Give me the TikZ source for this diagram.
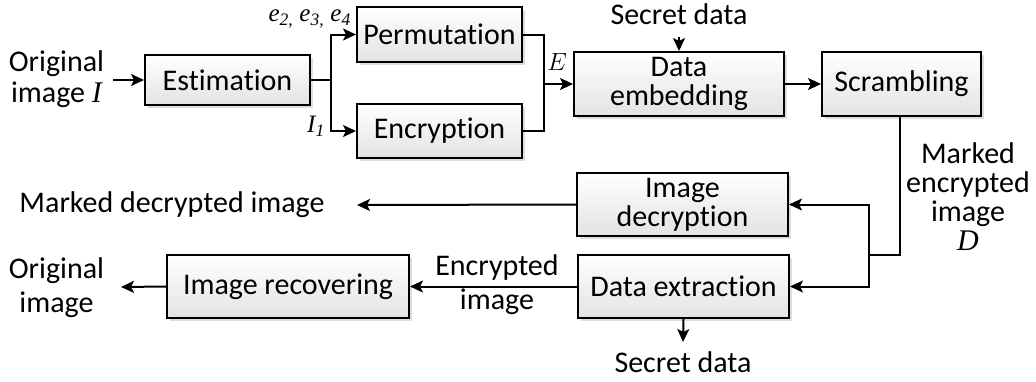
\documentclass[tikz,border=0pt]{standalone}
\usepackage{fontspec}
\setmainfont{Carlito}[Ligatures=NoCommon]
\newfontfamily\tms{Liberation Serif}
\usetikzlibrary{arrows.meta,shadows}
\tikzset{
  blk/.style={draw=black, line width=2pt, top color=white, bottom color=gray!22,
    drop shadow={shadow xshift=2.5pt, shadow yshift=-2.5pt, fill=gray!45, opacity=0.6},
    font=\fontsize{30}{31}\selectfont, align=center, inner sep=0pt},
  txt/.style={font=\fontsize{30}{31}\selectfont, align=center, inner sep=0pt},
  lbl/.style={font=\tms\itshape\fontsize{25}{26}\selectfont, inner sep=0pt},
  ln/.style={line width=2pt},
  ar/.style={line width=2pt, -{Stealth[length=13pt,width=12pt,inset=3pt]}}
}
\begin{document}
\begin{tikzpicture}[x=1pt,y=-1pt]
\useasboundingbox (0,0) rectangle (1036,381);
% blocks
\node[blk, minimum width=165pt, minimum height=50pt] (est) at (227.5,80) {Estimation};
\node[blk, minimum width=165pt, minimum height=55pt] (perm) at (439.5,34.5) {Permutation};
\node[blk, minimum width=165pt, minimum height=54pt] (enc) at (439.5,131) {Encryption};
\node[blk, minimum width=210pt, minimum height=64pt] (emb) at (679,84) {Data\\[-2pt]embedding};
\node[blk, minimum width=159pt, minimum height=64pt] (scr) at (901.5,84) {Scrambling};
\node[blk, minimum width=211pt, minimum height=63pt] (dec) at (682.5,204.5) {Image\\[-2pt]decryption};
\node[blk, minimum width=211pt, minimum height=63pt] (ext) at (683.5,286.5) {Data extraction};
\node[blk, minimum width=242pt, minimum height=63pt] (rec) at (288,286.5) {Image recovering};
% texts
\node[txt] (orig) at (56.5,79) {Original\\image {\tms\itshape I}};
\node[txt] (sec1) at (679,14) {Secret data};
\node[txt] (sec2) at (683,362) {Secret data};
\node[txt] (mdi) at (172,205) {Marked decrypted image};
\node[txt] (mei) at (968,197) {Marked\\[-2pt]encrypted\\[-2pt]image\\[-2pt]{\tms\itshape D}};
\node[txt] (eim) at (497,285) {Encrypted\\[3pt]image};
\node[txt] (oim) at (56.5,288) {Original\\[3pt]image};
% labels
\node[lbl, anchor=east] (le) at (351,19) {e\textsubscript{2,} e\textsubscript{3,} e\textsubscript{4}};
\node[lbl, anchor=east] (li) at (325,126) {I\textsubscript{1}};
\node[inner sep=0pt, font=\fontsize{25}{26}\selectfont] (lE) at (557,62) {$E$};
% coordinates
\coordinate (j1) at (331,80);
\coordinate (j2) at (544,84);
\coordinate (j3) at (900,255);
\coordinate (j4) at (869,255);
\coordinate (tmd) at (357,205);
\coordinate (tor) at (121,287);
\coordinate (s1) at (679,37);
\coordinate (s2) at (683,342);
\coordinate (o1) at (113,80);
% connectors
\draw[ar] (o1) -- (est.west);
\draw[ln] (est.east) -- (j1);
\draw[ar] (j1) |- (perm.west);
\draw[ar] (j1) |- (enc.west);
\draw[ln] (perm.east) -| (j2);
\draw[ln] (enc.east) -| (j2);
\draw[ar] (j2) -- (emb.west);
\draw[ar] (s1) -- (emb.north);
\draw[ar] (emb.east) -- (scr.west);
\draw[ln] (scr.south -| j3) -- (j3) -- (j4);
\draw[ar] (j4) |- (dec.east);
\draw[ar] (j4) |- (ext.east);
\draw[ar] (dec.west) -- (tmd);
\draw[ar] (ext.west) -- (rec.east);
\draw[ar] (rec.west) -- (tor);
\draw[ar] (ext.south) -- (s2);
\end{tikzpicture}
\end{document}
